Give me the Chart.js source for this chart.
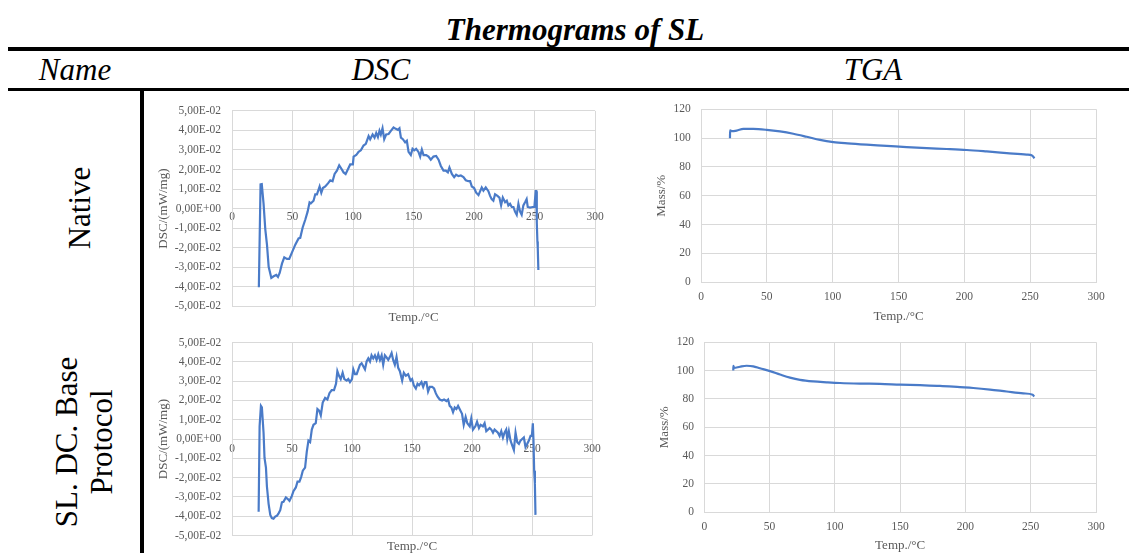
<!DOCTYPE html>
<html>
<head>
<meta charset="utf-8">
<title>Thermograms of SL</title>
<script src="https://cdn.jsdelivr.net/npm/chart.js@4.4.1/dist/chart.umd.min.js"></script>
<style>
body { margin: 0; background: #fff; }
#page { position: relative; width: 1129px; height: 553px; overflow: hidden; font-family: "Liberation Serif", "Times New Roman", serif; color: #000; }
.rule { position: absolute; background: #000; }
.txt { position: absolute; line-height: 1; white-space: nowrap; }
.side { position: absolute; font-size: 31px; line-height: 35px; text-align: center; white-space: nowrap; transform: translate(-50%, -50%) rotate(-90deg); }
canvas { position: absolute; }
</style>
</head>
<body>
<div id="page">
  <div class="txt" style="left:575px; top:14px; font-size:31px; font-weight:bold; font-style:italic; transform:translateX(-50%);">Thermograms of SL</div>
  <div class="rule" style="left:8px; top:47px; width:1121px; height:4px;"></div>
  <div class="txt" style="left:75px; top:54px; font-size:31px; font-style:italic; transform:translateX(-50%);">Name</div>
  <div class="txt" style="left:381px; top:54px; font-size:31px; font-style:italic; transform:translateX(-50%);">DSC</div>
  <div class="txt" style="left:873px; top:54px; font-size:31px; font-style:italic; transform:translateX(-50%);">TGA</div>
  <div class="rule" style="left:8px; top:88px; width:1121px; height:3px;"></div>
  <div class="rule" style="left:140px; top:88px; width:4px; height:465px;"></div>
  <div class="side" style="left:79px; top:208px;">Native</div>
  <div class="side" style="left:84px; top:442px;">SL. DC. Base<br>Protocol</div>

  <canvas id="dscNative" width="465" height="232" style="left:145px; top:93px;"></canvas>
  <canvas id="tgaNative" width="500" height="233" style="left:615px; top:92px;"></canvas>
  <canvas id="dscProt" width="465" height="229" style="left:145px; top:325px;"></canvas>
  <canvas id="tgaProt" width="500" height="229" style="left:615px; top:325px;"></canvas>
</div>

<script>
// DSC, native sample (Temp. in °C, heat flow in mW/mg)
const dscNativeT = [
  22.2, 23.6, 24.6, 26.1, 27.5, 28.9, 30.3, 32.5, 34.4, 36.6,
  38, 39.4, 41.3, 43.2, 45.4, 47.3, 49.5, 52.3, 55, 56.4,
  58.4, 60.6, 62.5, 64.1, 65.2, 67.4, 68.8, 70.2, 72.4, 73.8,
  75.1, 77.1, 79.3, 81.2, 83.1, 84.8, 86.7, 88.6, 90.3, 92.2,
  93.9, 95.5, 97.7, 99.9, 100.5, 102.7, 104.6, 106.5, 108.7, 110.6,
  112.9, 114.2, 116.2, 117.8, 119.2, 120.6, 121.9, 123, 124.4, 125.8,
  127.4, 129.4, 131.3, 133.5, 135.4, 137.1, 138.4, 139.6, 141.2, 143.1,
  144.5, 145.9, 147.8, 149.2, 150.6, 152.2, 154.1, 155.5, 156.9, 158.3,
  160.5, 162.4, 164.3, 166.5, 168.7, 170.7, 172.6, 174.8, 176.7, 178.4,
  179.7, 181.7, 183.6, 185.2, 187.2, 189.1, 191.3, 193.2, 195.4, 196.8,
  198.2, 200.1, 201.8, 203.7, 205.1, 206.4, 207.8, 209.7, 211.9, 213.3,
  214.6, 216, 217.4, 219.4, 221, 222.4, 223.8, 225.7, 227.1, 228.4,
  229.8, 231.2, 232.6, 233.9, 235.3, 236.7, 238.1, 239.4, 240.8, 242.2,
  243.5, 244.4, 246.3, 248.5, 249.9, 251, 251.5, 251.9, 252.4, 252.7,
  253.2
];
const dscNativeV = [
  -0.0403, 0.0124, 0.0125, 0.0024, -0.0105, -0.0185, -0.0298, -0.0355, -0.0347, -0.034,
  -0.035, -0.033, -0.0282, -0.025, -0.0258, -0.0258, -0.0226, -0.0185, -0.0153, -0.015,
  -0.0097, -0.0056, -0.0016, 0.0032, 0.0027, 0.004, 0.0073, 0.0073, 0.0113, 0.0081,
  0.0105, 0.0113, 0.0129, 0.0145, 0.014, 0.0177, 0.0194, 0.0221, 0.0205, 0.0185,
  0.0177, 0.0197, 0.0226, 0.0226, 0.0266, 0.0274, 0.029, 0.0298, 0.0323, 0.0331,
  0.0371, 0.0355, 0.0379, 0.0363, 0.0387, 0.0366, 0.0398, 0.0379, 0.0411, 0.0355,
  0.0379, 0.0382, 0.0398, 0.0415, 0.0408, 0.0403, 0.0411, 0.0363, 0.0355, 0.0339,
  0.0347, 0.029, 0.0274, 0.0306, 0.0298, 0.0306, 0.029, 0.0266, 0.0302, 0.0274,
  0.0274, 0.0266, 0.025, 0.0266, 0.0269, 0.025, 0.0218, 0.0194, 0.0194, 0.0185,
  0.021, 0.0177, 0.0161, 0.0173, 0.0166, 0.0169, 0.0161, 0.0145, 0.014, 0.014,
  0.0113, 0.0105, 0.0081, 0.0069, 0.0089, 0.0108, 0.0092, 0.0108, 0.0089, 0.0065,
  0.0048, 0.004, 0.0073, 0.0065, 0.0056, 0.0016, 0.0056, 0.0032, 0.004, 0.0016,
  0.0024, 0.0008, 0.0008, -0.0016, -0.0032, 0.0024, -0.0016, -0.0032, 0.0016, 0.0032,
  0.0048, 0.0008, 0.0005, 0.0008, 0.0008, 0.0089, 0.0089, -0.0073, -0.0169, -0.0202,
  -0.0315
];

// DSC, SL. DC. Base Protocol
const dscProtT = [
  22.2, 23, 24.1, 24.9, 26.3, 27.1, 28.3, 29.1, 30.5, 31.9,
  33.2, 34.6, 36, 37.4, 38.8, 40.2, 41.6, 42.9, 44.9, 46.5,
  47.9, 49.9, 51.2, 53.2, 54.6, 56.2, 57.6, 59, 60.9, 62.3,
  63.7, 65.1, 66.5, 67.9, 69.8, 71.2, 72.6, 74, 75.6, 77.6,
  79.5, 81.2, 83.1, 85, 86.7, 87.8, 89.2, 90.6, 92.2, 93.6,
  95.6, 96.9, 98.3, 100, 101.1, 102.5, 103.9, 105.3, 106.6, 108,
  109.4, 110.8, 112.2, 113.6, 115, 116.3, 117.7, 119.1, 120.5, 121.9,
  123.3, 124.7, 126, 127.4, 128.8, 130.2, 131.6, 133, 134.3, 135.7,
  137.1, 138.5, 139.9, 141.8, 143.2, 144.9, 146.8, 148.8, 150.1, 151.5,
  153.2, 154.6, 155.9, 157.9, 159.3, 160.7, 162, 163.4, 164.8, 166.8,
  168.4, 169.8, 171.2, 173.1, 175.1, 176.7, 178.7, 180.1, 181.4, 182.8,
  184.2, 185.6, 187, 188.4, 190.3, 191.7, 193.1, 194.7, 196.1, 198.1,
  199.4, 200.8, 202.8, 204.2, 205.8, 207.2, 209.1, 210.5, 211.9, 213.3,
  214.7, 216.1, 217.5, 218.8, 220.2, 221.6, 223, 224.4, 225.8, 227.1,
  228.5, 229.4, 230.7, 232.1, 233.5, 234.9, 236.3, 237.7, 239.1, 240.4,
  241.8, 243.2, 244.6, 246, 247.4, 248.8, 249.9, 250.7, 251.2, 251.8,
  252.4, 252.9
];
const dscProtV = [
  -0.0377, 0.0066, 0.0172, 0.0164, 0.0033, -0.0098, -0.0148, -0.0246, -0.0336, -0.0393,
  -0.041, -0.0413, -0.0402, -0.0398, -0.0385, -0.0369, -0.0328, -0.0325, -0.0303, -0.0311,
  -0.032, -0.0295, -0.027, -0.0251, -0.0221, -0.0221, -0.0197, -0.0164, -0.0148, -0.0066,
  -0.0008, -0.0016, 0.0049, 0.0074, 0.0082, 0.0156, 0.0148, 0.0123, 0.0189, 0.0213,
  0.0205, 0.0238, 0.0254, 0.0254, 0.0287, 0.0352, 0.0328, 0.0311, 0.0344, 0.0311,
  0.0303, 0.0311, 0.0295, 0.0311, 0.0361, 0.0336, 0.0336, 0.0361, 0.0385, 0.0393,
  0.0377, 0.0361, 0.0402, 0.0418, 0.0402, 0.0434, 0.0418, 0.0434, 0.041, 0.0439,
  0.041, 0.0434, 0.0385, 0.0434, 0.0423, 0.041, 0.0426, 0.0446, 0.041, 0.0385,
  0.0426, 0.0369, 0.0352, 0.0303, 0.0344, 0.0328, 0.0336, 0.0303, 0.0311, 0.0279,
  0.0262, 0.0287, 0.0279, 0.0295, 0.027, 0.0295, 0.0295, 0.0246, 0.027, 0.027,
  0.0262, 0.0238, 0.0221, 0.0205, 0.02, 0.0205, 0.0197, 0.0205, 0.0172, 0.0164,
  0.0139, 0.0164, 0.0156, 0.0172, 0.0148, 0.0131, 0.0074, 0.0115, 0.0082, 0.0066,
  0.0107, 0.0049, 0.0066, 0.009, 0.0057, 0.0074, 0.0066, 0.0082, 0.0041, 0.0049,
  0.0057, 0.0049, 0.0033, 0.0049, 0.0041, 0.0033, 0.0016, 0.0041, 0.0008, 0.0033,
  0.0049, 0, 0.0041, -0.0008, -0.0033, -0.0057, 0.0033, -0.0016, -0.0025, -0.0008,
  0, 0.0008, -0.0041, -0.0025, -0.0008, 0.0016, 0.0016, 0.0082, 0, -0.0164,
  -0.023, -0.0393
];

// TGA mass loss (%)
const tgaNativeT = [22, 22.1, 23.3, 27.1, 32.2, 39.7, 49.9, 60, 70.1, 80.3, 90.4, 100.5, 111.4,
  125.8, 141, 156.2, 171.4, 186.6, 201.8, 217, 232.2, 247.3, 251.1, 252.4, 253.2];
const tgaNativeM = [99.8, 105.4, 104.8, 105.2, 106.3, 106.3, 105.7, 104.6, 103, 100.9, 98.7, 97.2, 96.3,
  95.4, 94.6, 93.7, 93, 92.4, 91.7, 90.7, 89.6, 88.5, 88, 87, 85.9];

const tgaProtT = [22.2, 22.3, 22.7, 27.3, 32.4, 37.5, 42.6, 50.3, 58, 65.6, 73.3, 83.5, 93.7,
  103.9, 119.2, 134.5, 149.9, 165.2, 180.5, 195.8, 206, 218.8, 231.6, 244.3, 251.5, 252.7];
const tgaProtM = [100.1, 103.4, 101.8, 102.7, 103.4, 103, 101.6, 99.6, 97.2, 95, 93.4, 92.3, 91.7,
  91.2, 90.8, 90.6, 90.1, 89.7, 89.2, 88.3, 87.7, 86.6, 85.2, 83.9, 83, 81.7];

const BLUE = "#4a7bc8";
const GRID = "#d9d9d9";
const GREY = "#595959";
const FONT = "'Liberation Serif', 'Times New Roman', serif";

// Excel style scientific labels: 5,00E-02
function sci(v) {
    if (Math.abs(v) < 1e-12) v = 0;
    const parts = v.toExponential(2).split("e");
    const e = parseInt(parts[1]);
    return parts[0].replace(".", ",") + "E" + (e < 0 ? "-" : "+") + String(Math.abs(e)).padStart(2, "0");
}

function makeChart(id, xs, ys, o) {
    const pts = xs.map((x, i) => ({ x: x, y: ys[i] }));
    const xScale = {
        type: "linear",
        min: 0, max: 300,
        position: o.xPos,
        grid: { color: GRID, drawTicks: false },
        border: { color: GRID },
        ticks: { stepSize: 50, padding: o.xTickPad, color: GREY, font: { family: FONT, size: 11.5 }, maxRotation: 0, autoSkip: false }
    };
    if (o.xHeight) xScale.afterFit = s => { s.height = o.xHeight; };

    return new Chart(document.getElementById(id), {
        type: "scatter",
        data: {
            datasets: [{
                data: pts,
                showLine: true,
                borderColor: BLUE,
                borderWidth: 2.2,
                pointRadius: 0,
                cubicInterpolationMode: o.smooth ? "monotone" : "default",
                tension: 0
            }]
        },
        options: {
            responsive: false,
            animation: false,
            devicePixelRatio: 1,
            layout: { padding: o.pad },
            plugins: {
                legend: { display: false },
                tooltip: { enabled: false },
                title: {
                    display: true,
                    text: "Temp./°C",
                    position: "bottom",
                    fullSize: false,
                    color: GREY,
                    font: { family: FONT, size: 13, weight: "normal" },
                    padding: o.titlePad
                }
            },
            scales: {
                x: xScale,
                y: {
                    min: o.yMin, max: o.yMax,
                    grid: { color: GRID, drawTicks: false },
                    border: { color: GRID },
                    ticks: { stepSize: o.yStep, padding: o.yTickPad, color: GREY, font: { family: FONT, size: 11.5 }, callback: o.yFormat },
                    title: { display: true, text: o.yTitle, color: GREY, font: { family: FONT, size: 13 }, padding: { top: o.yTitlePad, bottom: 0 } },
                    afterFit: s => { s.width = o.yWidth; }
                }
            }
        }
    });
}

makeChart("dscNative", dscNativeT, dscNativeV, {
    xPos: { y: 0 }, xTickPad: 2,
    pad: { top: 6, right: 15, left: 0, bottom: 0 },
    titlePad: { top: 3.2, bottom: 0 },
    yMin: -0.05, yMax: 0.05, yStep: 0.01, yFormat: sci,
    yTitle: "DSC/(mW/mg)", yTitlePad: 11, yTickPad: 11, yWidth: 87
});

makeChart("dscProt", dscProtT, dscProtV, {
    xPos: { y: 0 }, xTickPad: 3,
    pad: { top: 7, right: 18, left: 0, bottom: 0 },
    titlePad: { top: 2.9, bottom: 0 },
    yMin: -0.05, yMax: 0.05, yStep: 0.01, yFormat: sci,
    yTitle: "DSC/(mW/mg)", yTitlePad: 11, yTickPad: 10.7, yWidth: 87
});

makeChart("tgaNative", tgaNativeT, tgaNativeM, {
    xPos: "bottom", xTickPad: 7.5, xHeight: 24.9, smooth: true,
    pad: { top: 6, right: 19, left: 30, bottom: 0 },
    titlePad: { top: 2, bottom: 0.2 },
    yMin: 0, yMax: 120, yStep: 20,
    yTitle: "Mass/%", yTitlePad: 9, yTickPad: 10.3, yWidth: 56
});

makeChart("tgaProt", tgaProtT, tgaProtM, {
    xPos: "bottom", xTickPad: 7.8, xHeight: 23.9, smooth: true,
    pad: { top: 7, right: 19, left: 30, bottom: 0 },
    titlePad: { top: 2, bottom: 0.2 },
    yMin: 0, yMax: 120, yStep: 20,
    yTitle: "Mass/%", yTitlePad: 12, yTickPad: 10.3, yWidth: 59.3
});
</script>
</body>
</html>
